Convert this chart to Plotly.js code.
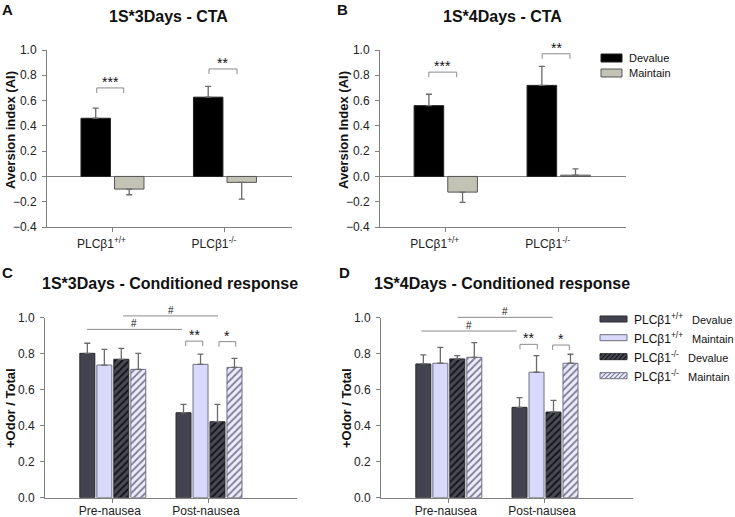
<!DOCTYPE html>
<html><head><meta charset="utf-8">
<script src="https://cdn.plot.ly/plotly-3.0.1.min.js"></script>
<style>html,body{margin:0;padding:0;background:#fff}</style>
</head><body><div id="chart" style="width:735px;height:517px"></div>
<script>
// ---------------- data ----------------
const ctaGroups = ['PLCβ1<sup>+/+</sup>', 'PLCβ1<sup>-/-</sup>'];
const ctaSeries = ['Devalue', 'Maintain'];
const cta3Devalue = [0.46, 0.627];
const cta3DevalueErr = [0.08, 0.085];
const cta3Maintain = [-0.10, -0.047];
const cta3MaintainErr = [0.045, 0.133];
const cta4Devalue = [0.56, 0.72];
const cta4DevalueErr = [0.09, 0.15];
const cta4Maintain = [-0.124, 0.01];
const cta4MaintainErr = [0.081, 0.05];

const crCategories = ['Pre-nausea', 'Post-nausea'];
const crSeries = ['PLCβ1<sup>+/+</sup>|Devalue', 'PLCβ1<sup>+/+</sup>|Maintain', 'PLCβ1<sup>-/-</sup>|Devalue', 'PLCβ1<sup>-/-</sup>|Maintain'];
const cr3WtDevalue = [0.802, 0.472];   const cr3WtDevalueErr = [0.056, 0.047];
const cr3WtMaintain = [0.737, 0.741];  const cr3WtMaintainErr = [0.087, 0.057];
const cr3KoDevalue = [0.769, 0.422];   const cr3KoDevalueErr = [0.061, 0.097];
const cr3KoMaintain = [0.713, 0.724];  const cr3KoMaintainErr = [0.089, 0.05];
const cr4WtDevalue = [0.743, 0.502];   const cr4WtDevalueErr = [0.05, 0.054];
const cr4WtMaintain = [0.747, 0.697];  const cr4WtMaintainErr = [0.088, 0.092];
const cr4KoDevalue = [0.771, 0.476];   const cr4KoDevalueErr = [0.018, 0.065];
const cr4KoMaintain = [0.780, 0.747];  const cr4KoMaintainErr = [0.081, 0.05];

const yTicksCTA = [-0.4, -0.2, 0.0, 0.2, 0.4, 0.6, 0.8, 1.0];
const yTicksCR = [0.0, 0.2, 0.4, 0.6, 0.8, 1.0];

// ---------------- layout helpers ----------------
const W = 735, H = 517;
const FF = 'Arial, "Liberation Sans", Helvetica, sans-serif';
const AX = '#808080';
const P = {
  A: {xd: [47 / W, 292 / W], yd: [1 - 227 / H, 1 - 50 / H], xr: [-0.582, 1.596], yr: [-0.4, 1.0]},
  B: {xd: [380 / W, 626 / W], yd: [1 - 227 / H, 1 - 50 / H], xr: [-0.582, 1.596], yr: [-0.4, 1.0]},
  C: {xd: [45 / W, 297 / W], yd: [1 - 497.7 / H, 1 - 317.7 / H], xr: [-0.705, 1.915], yr: [0, 1.0]},
  D: {xd: [381 / W, 633 / W], yd: [1 - 497.7 / H, 1 - 317.7 / H], xr: [-0.705, 1.915], yr: [0, 1.0]}
};
function px(p, v) { return p.xd[0] + (v - p.xr[0]) / (p.xr[1] - p.xr[0]) * (p.xd[1] - p.xd[0]); }
function py(p, v) { return p.yd[0] + (v - p.yr[0]) / (p.yr[1] - p.yr[0]) * (p.yd[1] - p.yd[0]); }
const fx = v => v / W, fy = v => 1 - v / H;

function errUp(v, e) { return v.map((val, i) => val >= 0 ? e[i] : 0); }
function errDown(v, e) { return v.map((val, i) => val < 0 ? e[i] : 0); }
function barTrace(name, x, y, err, xa, ya, st) {
  return {
    type: 'bar', name, x, y, xaxis: xa, yaxis: ya, offset: st.offset, width: st.width,
    marker: {color: st.color, line: {color: st.line, width: 1}, pattern: st.pattern || {shape: ''}},
    error_y: {type: 'data', symmetric: false, array: errUp(y, err), arrayminus: errDown(y, err),
      color: '#6a6a6a', thickness: 1.3, width: 3},
    showlegend: false, hoverinfo: 'skip', cliponaxis: false
  };
}
const stCTA = [
  {offset: -0.28, width: 0.262, color: '#000000', line: '#222222'},
  {offset: 0.018, width: 0.262, color: '#c3c3b5', line: '#555555'}
];
const hatchDark = {shape: '/', fgcolor: '#15151c', bgcolor: '#4a4a55', size: 5, solidity: 0.4, fillmode: 'replace'};
const hatchLight = {shape: '/', fgcolor: '#7c7c98', bgcolor: '#ececfb', size: 5, solidity: 0.35, fillmode: 'replace'};
const stCR = [
  {offset: -0.343, width: 0.156, color: '#434350', line: '#2a2a30'},
  {offset: -0.166, width: 0.156, color: '#d9d9fb', line: '#6e6e80'},
  {offset: 0.0104, width: 0.156, color: '#4a4a55', line: '#2a2a30', pattern: hatchDark},
  {offset: 0.187, width: 0.156, color: '#ececfb', line: '#6e6e80', pattern: hatchLight}
];

const data = [
  barTrace(ctaSeries[0], ctaGroups, cta3Devalue, cta3DevalueErr, 'x', 'y', stCTA[0]),
  barTrace(ctaSeries[1], ctaGroups, cta3Maintain, cta3MaintainErr, 'x', 'y', stCTA[1]),
  barTrace(ctaSeries[0], ctaGroups, cta4Devalue, cta4DevalueErr, 'x2', 'y2', stCTA[0]),
  barTrace(ctaSeries[1], ctaGroups, cta4Maintain, cta4MaintainErr, 'x2', 'y2', stCTA[1]),
  barTrace(crSeries[0], crCategories, cr3WtDevalue, cr3WtDevalueErr, 'x3', 'y3', stCR[0]),
  barTrace(crSeries[1], crCategories, cr3WtMaintain, cr3WtMaintainErr, 'x3', 'y3', stCR[1]),
  barTrace(crSeries[2], crCategories, cr3KoDevalue, cr3KoDevalueErr, 'x3', 'y3', stCR[2]),
  barTrace(crSeries[3], crCategories, cr3KoMaintain, cr3KoMaintainErr, 'x3', 'y3', stCR[3]),
  barTrace(crSeries[0], crCategories, cr4WtDevalue, cr4WtDevalueErr, 'x4', 'y4', stCR[0]),
  barTrace(crSeries[1], crCategories, cr4WtMaintain, cr4WtMaintainErr, 'x4', 'y4', stCR[1]),
  barTrace(crSeries[2], crCategories, cr4KoDevalue, cr4KoDevalueErr, 'x4', 'y4', stCR[2]),
  barTrace(crSeries[3], crCategories, cr4KoMaintain, cr4KoMaintainErr, 'x4', 'y4', stCR[3])
];

function xAxis(p, anchor, shift, standoff) {
  return {domain: p.xd, range: p.xr, type: 'category', anchor, showline: true, linecolor: AX, linewidth: 1,
    ticks: 'outside', ticklen: 4, tickcolor: AX, showgrid: false, zeroline: false, fixedrange: true,
    ticklabelshift: shift, ticklabelstandoff: standoff, tickfont: {family: FF, size: 12, color: '#222'}};
}
function yAxis(p, anchor, tv, zl) {
  return {domain: p.yd, range: p.yr, anchor, showline: true, linecolor: AX, linewidth: 1,
    ticks: 'outside', ticklen: 4, tickcolor: AX, tickvals: tv, tickformat: '.1f', showgrid: false,
    zeroline: zl, zerolinecolor: AX, zerolinewidth: 1, fixedrange: true, ticklabelstandoff: 3,
    tickfont: {family: FF, size: 12, color: '#222'}};
}

const shapes = [], annotations = [];
function txt(x, y, text, size, opts) {
  annotations.push(Object.assign({xref: 'paper', yref: 'paper', x, y, text, showarrow: false,
    xanchor: 'center', yanchor: 'middle', font: {family: FF, size, color: '#111'}}, opts || {}));
}
// titles, panel letters, y titles
txt(fx(168.5), fy(16), '<b>1S*3Days - CTA</b>', 16);
txt(fx(502), fy(16), '<b>1S*4Days - CTA</b>', 16);
txt(fx(170), fy(283), '<b>1S*3Days - Conditioned response</b>', 16);
txt(fx(502), fy(283), '<b>1S*4Days - Conditioned response</b>', 16);
txt(fx(7), fy(9), '<b>A</b>', 15);
txt(fx(342), fy(9), '<b>B</b>', 15);
txt(fx(7), fy(272), '<b>C</b>', 15);
txt(fx(344), fy(272), '<b>D</b>', 15);
txt(fx(10), fy(130), '<b>Aversion index (AI)</b>', 13, {textangle: -90});
txt(fx(343), fy(130), '<b>Aversion Index (AI)</b>', 13, {textangle: -90});
txt(fx(10), fy(408), '<b>+Odor / Total</b>', 13, {textangle: -90});
txt(fx(346), fy(408), '<b>+Odor / Total</b>', 13, {textangle: -90});

// significance brackets
function bracket(p, x1, x2, y, label, legs, lblSize) {
  const X1 = px(p, x1), X2 = px(p, x2), Y = py(p, y);
  const leg = 5 / H;
  const path = legs
    ? `M${X1},${Y - leg} L${X1},${Y} L${X2},${Y} L${X2},${Y - leg}`
    : `M${X1},${Y} L${X2},${Y}`;
  shapes.push({type: 'path', xref: 'paper', yref: 'paper', path, line: {color: '#8a8a8a', width: 1}});
  txt((X1 + X2) / 2, Y, label, lblSize, {yanchor: 'bottom', yshift: legs ? -4 : -2});
}
bracket(P.A, -0.14, 0.10, 0.70, '***', true, 14);
bracket(P.A, 0.858, 1.107, 0.85, '**', true, 14);
bracket(P.B, -0.15, 0.097, 0.825, '***', true, 14);
bracket(P.B, 0.854, 1.10, 0.97, '**', true, 14);
bracket(P.C, -0.268, 0.719, 0.935, '#', false, 10);
bracket(P.C, 0.107, 1.094, 1.01, '#', false, 10);
bracket(P.C, 0.758, 0.935, 0.87, '**', true, 14);
bracket(P.C, 1.104, 1.278, 0.867, '*', true, 14);
bracket(P.D, -0.284, 0.705, 0.926, '#', false, 10);
bracket(P.D, 0.091, 1.08, 1.002, '#', false, 10);
bracket(P.D, 0.74, 0.92, 0.852, '**', true, 14);
bracket(P.D, 1.08, 1.253, 0.848, '*', true, 14);

// custom legends
function box(x0, y0, x1, y1, fill, line) {
  shapes.push({type: 'rect', xref: 'paper', yref: 'paper', x0: fx(x0), x1: fx(x1), y0: fy(y1), y1: fy(y0),
    fillcolor: fill, line: {color: line, width: 1}});
}
function hatch(x0, y0, x1, y1, col) {
  for (let s = x0 - 4; s < x1; s += 4.5) {
    let a = s, b = s + (y1 - y0);
    let ya = y1, yb = y0;
    if (a < x0) { ya = y1 - (x0 - a); a = x0; }
    if (b > x1) { yb = y0 + (b - x1); b = x1; }
    if (b <= a) continue;
    shapes.push({type: 'line', xref: 'paper', yref: 'paper', x0: fx(a), y0: fy(ya), x1: fx(b), y1: fy(yb),
      line: {color: col, width: 1.2}});
  }
}
box(601, 54, 622, 62, stCTA[0].color, stCTA[0].line);
box(601, 69, 622, 77, stCTA[1].color, stCTA[1].line);
txt(fx(627), fy(58), ctaSeries[0], 11, {xanchor: 'left'});
txt(fx(627), fy(73), ctaSeries[1], 11, {xanchor: 'left'});

const rowsY = [319, 337.7, 356.7, 375.7];
crSeries.forEach((s, i) => {
  const y = rowsY[i];
  box(600, y - 3, 627, y + 3, stCR[i].color, stCR[i].line);
  if (stCR[i].pattern) hatch(600, y - 3, 627, y + 3, stCR[i].pattern.fgcolor);
  const [g, cond] = s.split('|');
  txt(fx(632), fy(y), g, 12, {xanchor: 'left'});
  txt(fx(i < 2 ? 690 : 686), fy(y + 1), cond, 11, {xanchor: 'left'});
});

const layout = {
  width: W, height: H, margin: {l: 0, r: 0, t: 0, b: 0}, paper_bgcolor: '#fff', plot_bgcolor: 'rgba(0,0,0,0)',
  showlegend: false, barmode: 'overlay',
  xaxis: xAxis(P.A, 'y', -11, 2), yaxis: yAxis(P.A, 'x', yTicksCTA, true),
  xaxis2: xAxis(P.B, 'y2', -11, 2), yaxis2: yAxis(P.B, 'x2', yTicksCTA, true),
  xaxis3: xAxis(P.C, 'y3', -3, -2), yaxis3: yAxis(P.C, 'x3', yTicksCR, false),
  xaxis4: xAxis(P.D, 'y4', -3, -2), yaxis4: yAxis(P.D, 'x4', yTicksCR, false),
  shapes, annotations
};
Plotly.newPlot('chart', data, layout, {staticPlot: true, displayModeBar: false});
</script></body></html>
